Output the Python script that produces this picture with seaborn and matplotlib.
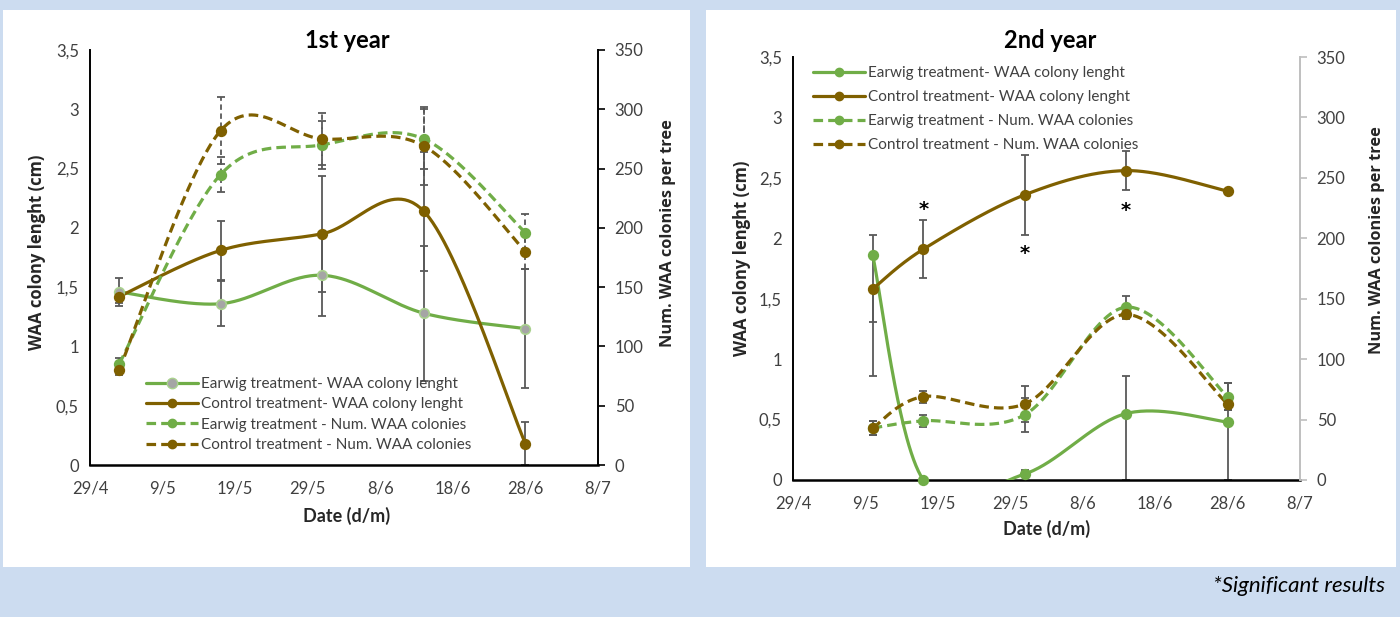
import numpy as np
import pandas as pd
import matplotlib
matplotlib.use("Agg")
import matplotlib.pyplot as plt
import matplotlib.dates as mdates
from matplotlib.lines import Line2D
from matplotlib.patches import Rectangle
import seaborn as sns

# ---- data ----
tick_dates = ["29/4", "9/5", "19/5", "29/5", "8/6", "18/6", "28/6", "8/7"]

# 1st year
dates_y1 = ["3/5", "17/5", "31/5", "14/6", "28/6"]
earwig_len_y1 = [1.46, 1.36, 1.60, 1.28, 1.15]
earwig_len_y1_err = [0.12, 0.19, 0.34, 0.57, 0.50]
control_len_y1 = [1.42, 1.81, 1.95, 2.14, 0.18]
control_len_y1_err = [0.05, 0.25, 0.49, 0.50, 0.18]
earwig_num_y1 = [85, 245, 270, 275, 196]
earwig_num_y1_err = [5, 15, 20, 25, 16]
control_num_y1 = [80, 282, 275, 269, 180]
control_num_y1_err = [4, 28, 22, 33, 15]

# 2nd year
dates_y2 = ["10/5", "17/5", "31/5", "14/6", "28/6"]
earwig_len_y2 = [1.86, 0.0, 0.05, 0.55, 0.48]
earwig_len_y2_lo = [0.55, 0.0, 0.0, 0.55, 0.48]
earwig_len_y2_hi = [0.17, 0.0, 0.03, 0.31, 0.32]
control_len_y2 = [1.58, 1.91, 2.36, 2.56, 2.39]
control_len_y2_lo = [0.72, 0.24, 0.33, 0.16, 0.0]
control_len_y2_hi = [0.0, 0.24, 0.33, 0.16, 0.0]
earwig_num_y2 = [43, 49, 54, 143, 69]
earwig_num_y2_err = [6, 5, 14, 9, 11]
control_num_y2 = [43, 69, 63, 137, 63]
control_num_y2_err = [6, 5, 15, 4, 5]
sig_dates = ["17/5", "31/5", "14/6"]
sig_y = [2.24, 1.87, 2.23]

labels = ["Earwig treatment- WAA colony lenght",
          "Control treatment- WAA colony lenght",
          "Earwig treatment - Num. WAA colonies",
          "Control treatment - Num. WAA colonies"]

GREEN = "#70AD47"
BROWN = "#7F6000"
ERR = "#595959"
BG = "#CCDCF0"

sns.set_theme(style="white")
plt.rcParams["font.family"] = ["Lato", "DejaVu Sans"]


def to_num(days):
    return mdates.date2num(pd.to_datetime([d + "/2019" for d in days], format="%d/%m/%Y"))


def smooth(x, y, n=60):
    # Excel-style smoothed line (Catmull-Rom bezier through the points)
    x = np.asarray(x, float)
    y = np.asarray(y, float)
    P = np.column_stack([x, y])
    Q = np.vstack([P[0], P, P[-1]])
    t = np.linspace(0, 1, n)[:, None]
    out = []
    for i in range(len(P) - 1):
        p0, p3 = Q[i + 1], Q[i + 2]
        c1 = p0 + (Q[i + 2] - Q[i]) / 6
        c2 = p3 - (Q[i + 3] - Q[i + 1]) / 6
        seg = (1 - t) ** 3 * p0 + 3 * (1 - t) ** 2 * t * c1 + 3 * (1 - t) * t ** 2 * c2 + t ** 3 * p3
        out.append(seg)
    out = np.vstack(out)
    return out[:, 0], out[:, 1]


def series(ax, x, y, yerr, color, ls, mface, medge, errls="-"):
    eb = ax.errorbar(x, y, yerr=yerr, fmt="none", ecolor=ERR, elinewidth=1.3,
                     capsize=3, capthick=1.3, zorder=2)
    if errls != "-":
        for coll in eb.lines[2]:
            coll.set_linestyle((0, (3, 2)))
    sx, sy = smooth(x, y)
    if ls == "--":
        ax.plot(sx, sy, color=color, lw=2.3, ls="--", dashes=(3, 1.6), zorder=3)
    else:
        ax.plot(sx, sy, color=color, lw=2.3, zorder=3)
    df = pd.DataFrame({"x": x, "y": y})
    sns.scatterplot(data=df, x="x", y="y", ax=ax, s=48, color=mface,
                    edgecolor=medge, linewidth=1.2, zorder=4, clip_on=False)


def style_axes(ax, ax2, right_color):
    xt = to_num(tick_dates)
    ax.set_xlim(xt[0], xt[-1])
    ax.set_xticks(xt)
    ax.set_xticklabels(tick_dates)
    ax.set_ylim(0, 3.5)
    ax.set_yticks(np.arange(0, 3.51, 0.5))
    ax.set_yticklabels([f"{v:g}".replace(".", ",") for v in np.arange(0, 3.51, 0.5)])
    ax2.set_ylim(0, 350)
    ax2.set_yticks(np.arange(0, 351, 50))
    for a in (ax, ax2):
        a.set_facecolor("none")
        for s in a.spines.values():
            s.set_visible(False)
        a.set_xlabel("")
        a.set_ylabel("")
    ax.spines["left"].set_visible(True)
    ax.spines["left"].set_color("black")
    ax.spines["left"].set_linewidth(1.4)
    ax.spines["bottom"].set_visible(True)
    ax.spines["bottom"].set_color("black")
    ax.spines["bottom"].set_linewidth(1.8)
    ax2.spines["right"].set_visible(True)
    ax2.spines["right"].set_color(right_color)
    ax2.spines["right"].set_linewidth(1.4)
    ax.tick_params(axis="both", length=0, labelsize=12, colors="#404040", pad=8)
    ax.tick_params(axis="x", pad=11)
    ax2.tick_params(axis="y", length=5, width=1.2, color=right_color, direction="out",
                    labelsize=12, labelcolor="#404040", pad=7)
    ax.grid(False)
    ax2.grid(False)


def legend_handles(edge_first):
    h = []
    h.append(Line2D([], [], color=GREEN, lw=2.3, marker="o", markersize=7.5 if edge_first else 6,
                    markerfacecolor="#A5A5A5" if edge_first else GREEN,
                    markeredgecolor="#A9D18E" if edge_first else GREEN))
    h.append(Line2D([], [], color=BROWN, lw=2.3, marker="o", markersize=6,
                    markerfacecolor=BROWN, markeredgecolor=BROWN))
    h.append(Line2D([], [], color=GREEN, lw=2.3, ls="--", dashes=(3, 1.6), marker="o",
                    markersize=6, markerfacecolor=GREEN, markeredgecolor=GREEN))
    h.append(Line2D([], [], color=BROWN, lw=2.3, ls="--", dashes=(3, 1.6), marker="o",
                    markersize=6, markerfacecolor=BROWN, markeredgecolor=BROWN))
    return h


W, H = 1400, 617
fig = plt.figure(figsize=(14, 6.17), dpi=100)
fig.patch.set_facecolor(BG)
fig.patches.append(Rectangle((3 / W, 1 - 567 / H), 687 / W, 557 / H,
                             transform=fig.transFigure, facecolor="white", edgecolor="none", zorder=-5))
fig.patches.append(Rectangle((706 / W, 1 - 567 / H), 690 / W, 557 / H,
                             transform=fig.transFigure, facecolor="white", edgecolor="none", zorder=-5))

# ---- 1st year ----
ax1 = fig.add_axes([90 / W, 1 - 465 / H, 508 / W, 415 / H])
ax1b = ax1.twinx()
x1 = to_num(dates_y1)
series(ax1, x1, earwig_len_y1, earwig_len_y1_err, GREEN, "-", "#A5A5A5", "#A9D18E")
series(ax1, x1, control_len_y1, control_len_y1_err, BROWN, "-", BROWN, BROWN)
series(ax1b, x1, earwig_num_y1, earwig_num_y1_err, GREEN, "--", GREEN, GREEN, errls="--")
series(ax1b, x1, control_num_y1, control_num_y1_err, BROWN, "--", BROWN, BROWN, errls="--")
style_axes(ax1, ax1b, "black")
ax1b.legend(legend_handles(True), labels, loc="upper left", frameon=False,
            bbox_to_anchor=(146 / W, 1 - 377 / H), bbox_transform=fig.transFigure,
            borderaxespad=0, borderpad=0, fontsize=11, handlelength=3.4,
            handletextpad=0.2, labelspacing=0.42, labelcolor="#404040")
fig.text(347 / W, 1 - 41 / H, "1st year", ha="center", va="center",
         fontsize=17, fontweight="bold", color="black")
fig.text(347 / W, 1 - 516 / H, "Date (d/m)", ha="center", va="center",
         fontsize=13, fontweight="bold", color="#262626")
fig.text(37 / W, 1 - 252 / H, "WAA colony lenght (cm)", rotation=90, ha="center",
         va="center", fontsize=12, fontweight="bold", family="Open Sans")
fig.text(668 / W, 1 - 233 / H, "Num. WAA colonies per tree", rotation=90, ha="center",
         va="center", fontsize=11.8, fontweight="bold", family="Open Sans")

# ---- 2nd year ----
ax2 = fig.add_axes([793 / W, 1 - 480 / H, 507 / W, 423 / H])
ax2b = ax2.twinx()
x2 = to_num(dates_y2)
series(ax2, x2, earwig_len_y2, [earwig_len_y2_lo, earwig_len_y2_hi], GREEN, "-", GREEN, GREEN)
series(ax2, x2, control_len_y2, [control_len_y2_lo, control_len_y2_hi], BROWN, "-", BROWN, BROWN)
series(ax2b, x2, earwig_num_y2, earwig_num_y2_err, GREEN, "--", GREEN, GREEN)
series(ax2b, x2, control_num_y2, control_num_y2_err, BROWN, "--", BROWN, BROWN)
style_axes(ax2, ax2b, "#BFBFBF")
for d, yv in zip(to_num(sig_dates), sig_y):
    ax2.text(d, yv, "*", ha="center", va="center", fontsize=14, fontweight="bold",
             color="black", family="DejaVu Sans")
ax2b.legend(legend_handles(False), labels, loc="upper left", frameon=False,
            bbox_to_anchor=(813 / W, 1 - 66 / H), bbox_transform=fig.transFigure,
            borderaxespad=0, borderpad=0, fontsize=11, handlelength=3.4,
            handletextpad=0.2, labelspacing=0.66, labelcolor="#404040")
fig.text(1050 / W, 1 - 41 / H, "2nd year", ha="center", va="center",
         fontsize=17, fontweight="bold", color="black")
fig.text(1047 / W, 1 - 529 / H, "Date (d/m)", ha="center", va="center",
         fontsize=13, fontweight="bold", color="#262626")
fig.text(742 / W, 1 - 258 / H, "WAA colony lenght (cm)", rotation=90, ha="center",
         va="center", fontsize=12, fontweight="bold", family="Open Sans")
fig.text(1377 / W, 1 - 240 / H, "Num. WAA colonies per tree", rotation=90, ha="center",
         va="center", fontsize=11.8, fontweight="bold", family="Open Sans")

fig.text(1385 / W, 1 - 586 / H, "*Significant results", ha="right", va="center",
         fontsize=16, style="italic", color="black")

fig.savefig("out.png", dpi=100, facecolor=BG)
